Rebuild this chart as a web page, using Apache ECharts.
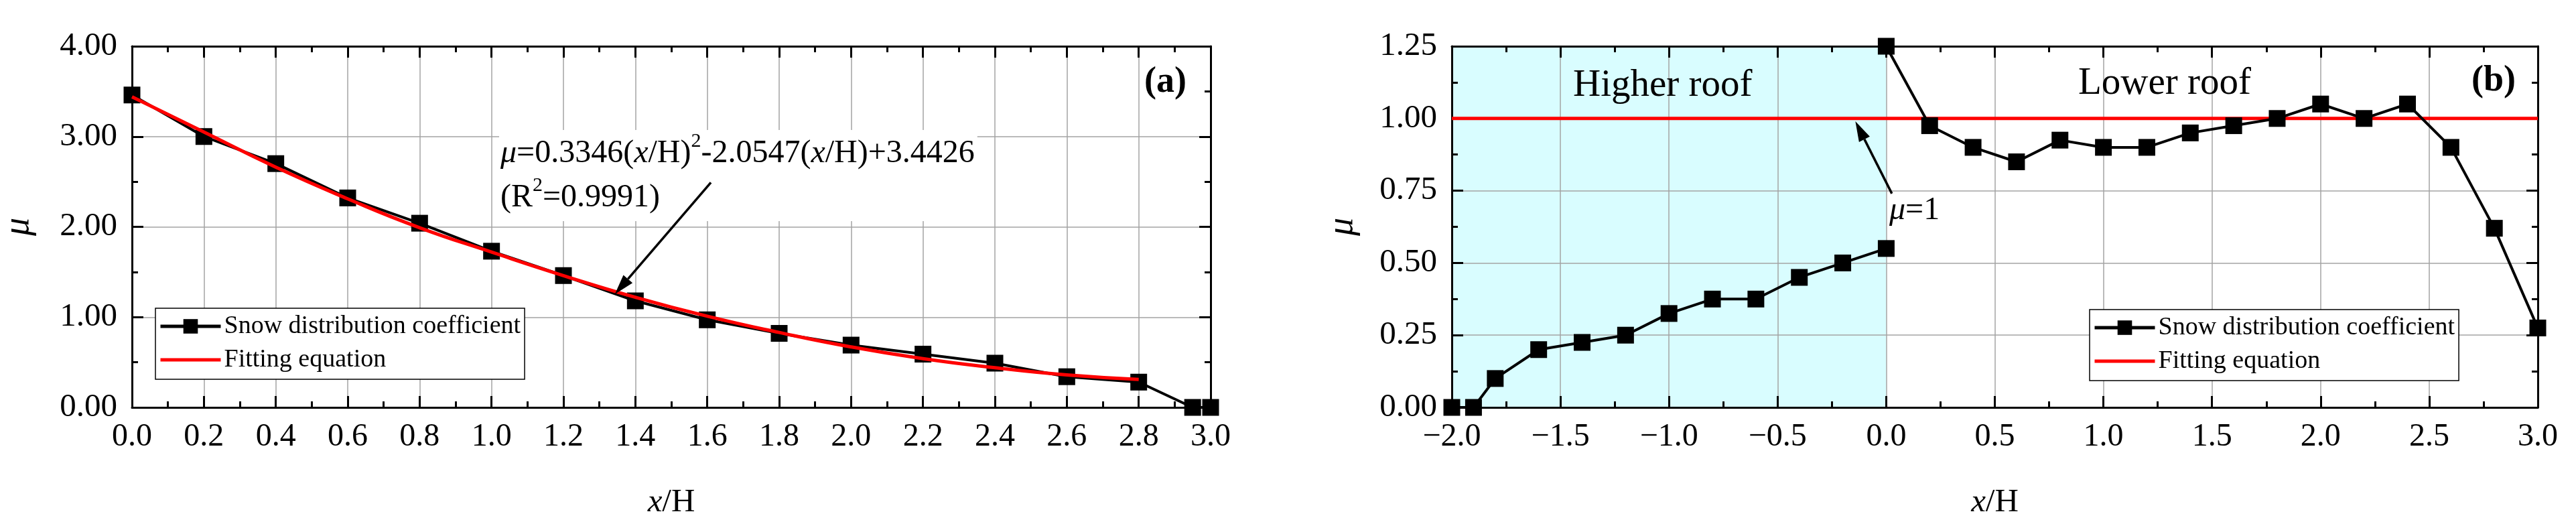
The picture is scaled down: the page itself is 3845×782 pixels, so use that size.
<!DOCTYPE html>
<html>
<head>
<meta charset="utf-8">
<script src="https://cdn.jsdelivr.net/npm/echarts@6/dist/echarts.min.js"></script>
<style>
html,body{margin:0;padding:0;background:#fff;}
#main{width:3845px;height:782px;}
</style>
</head>
<body>
<div id="main"></div>
<script>
// panel (a): snow distribution coefficient along x/H
var xA   = [0, 0.2, 0.4, 0.6, 0.8, 1.0, 1.2, 1.4, 1.6, 1.8, 2.0, 2.2, 2.4, 2.6, 2.8, 2.95, 3.0];
var muA  = [3.46, 3.00, 2.70, 2.32, 2.04, 1.73, 1.46, 1.18, 0.97, 0.82, 0.69, 0.59, 0.49, 0.34, 0.28, 0, 0];
// fitted curve
var fitX = [0, 0.2, 0.4, 0.6, 0.8, 1.0, 1.2, 1.4, 1.6, 1.8, 2.0, 2.2, 2.4, 2.6, 2.8];
var fitA = [3.44, 3.05, 2.66, 2.31, 1.99, 1.72, 1.46, 1.22, 1.01, 0.83, 0.67, 0.54, 0.44, 0.36, 0.31];

// panel (b): higher roof (x<=0) and lower roof (x>=0)
var xHigh  = [-2.0, -1.9, -1.8, -1.6, -1.4, -1.2, -1.0, -0.8, -0.6, -0.4, -0.2, 0];
var muHigh = [0, 0, 0.10, 0.20, 0.225, 0.25, 0.325, 0.375, 0.375, 0.45, 0.50, 0.55];
var xLow   = [0, 0.2, 0.4, 0.6, 0.8, 1.0, 1.2, 1.4, 1.6, 1.8, 2.0, 2.2, 2.4, 2.6, 2.8, 3.0];
var muLow  = [1.25, 0.975, 0.90, 0.85, 0.925, 0.90, 0.90, 0.95, 0.975, 1.00, 1.05, 1.00, 1.05, 0.90, 0.62, 0.275];
var refX = [-2, 3];
var refB = [1, 1];
var higherRoof = [-2, 0];

var FONT = 'Liberation Serif';
var GRID_COLOR = '#a3a3a3';
var SNOW = 'Snow distribution coefficient';
var FIT = 'Fitting equation';

function zip(xs, ys) {
    return xs.map(function (x, i) { return [x, ys[i]]; });
}

function axis(grid, pos, min, max, step, labels, fmt) {
    var isX = (pos === 'bottom' || pos === 'top');
    return {
        type: 'value',
        gridIndex: grid,
        position: pos,
        min: min,
        max: max,
        interval: step,
        z: 0,
        axisLine: { show: true, onZero: false, lineStyle: { color: '#000', width: 3 } },
        axisTick: { show: true, inside: true, length: 17, lineStyle: { color: '#000', width: 3 } },
        minorTick: { show: true, splitNumber: 2, length: 9, lineStyle: { color: '#000', width: 3 } },
        splitLine: { show: labels, lineStyle: { color: GRID_COLOR, width: 1.5 } },
        axisLabel: {
            show: labels,
            margin: isX ? 20 : 22,
            fontFamily: FONT,
            fontSize: isX ? 48 : 49,
            color: '#000',
            formatter: fmt
        }
    };
}

function fmtSigned(v) {
    var s = Math.abs(v).toFixed(1);
    return v < -1e-9 ? '\u2212' + s : s;
}
function fmt2(v) { return v.toFixed(2); }

var xName = {
    name: '{i|x}/H',
    nameLocation: 'middle',
    nameGap: 118,
    nameTextStyle: {
        fontFamily: FONT, fontSize: 49, color: '#000',
        rich: { i: { fontFamily: FONT, fontSize: 49, fontStyle: 'italic', color: '#000' } }
    }
};
var yName = function (gap) {
    return {
        name: '\u03bc', nameLocation: 'middle', nameGap: gap, nameRotate: 90,
        nameTextStyle: { fontFamily: FONT, fontSize: 54, fontStyle: 'italic', color: '#000' }
    };
};

var xAxes = [
    Object.assign(axis(0, 'bottom', 0, 3, 0.2, true, fmtSigned), xName),
    axis(0, 'top', 0, 3, 0.2, false),
    Object.assign(axis(1, 'bottom', -2, 3, 0.5, true, fmtSigned), xName),
    axis(1, 'top', -2, 3, 0.5, false)
];
var yAxes = [
    Object.assign(axis(0, 'left', 0, 4, 1, true, fmt2), yName(142)),
    axis(0, 'right', 0, 4, 1, false),
    Object.assign(axis(1, 'left', 0, 1.25, 0.25, true, fmt2), yName(136)),
    axis(1, 'right', 0, 1.25, 0.25, false)
];

function legend(left, top) {
    return {
        orient: 'vertical',
        left: left,
        top: top,
        data: [
            { name: SNOW, lineStyle: { width: 5 } },
            { name: FIT, icon: 'path://M0,0 L90,0 L90,5 L0,5 Z', itemStyle: { color: '#ff0000' } }
        ],
        itemWidth: 90,
        itemHeight: 27,
        itemGap: 10,
        padding: [7, 6, 9, 5],
        borderColor: '#000',
        borderWidth: 1.5,
        backgroundColor: '#fff',
        selectedMode: false,
        textStyle: { fontFamily: FONT, fontSize: 38, color: '#000', lineHeight: 40 }
    };
}

function snowSeries(xi, yi, data) {
    return {
        name: SNOW, type: 'line', xAxisIndex: xi, yAxisIndex: yi,
        data: data, symbol: 'rect', symbolSize: 25, clip: false,
        itemStyle: { color: '#000' },
        lineStyle: { color: '#000', width: 4 },
        z: 3
    };
}

var option = {
    backgroundColor: '#fff',
    animation: false,
    grid: [
        { left: 187, top: 69, width: 1620, height: 539 },
        { left: 2167, top: 69, width: 1621, height: 539 }
    ],
    xAxis: xAxes,
    yAxis: yAxes,
    legend: [legend(232, 460), legend(3119, 462)],
    series: [
        snowSeries(0, 0, zip(xA, muA)),
        {
            name: FIT, type: 'line', xAxisIndex: 0, yAxisIndex: 0,
            data: zip(fitX, fitA), smooth: true, symbol: 'none',
            itemStyle: { color: '#ff0000' },
            lineStyle: { color: '#ff0000', width: 5 },
            z: 4
        },
        {
            // cyan band for the higher roof, kept under the grid lines
            name: 'band', type: 'line', xAxisIndex: 2, yAxisIndex: 2,
            data: [], silent: true,
            markArea: {
                silent: true,
                z: -1,
                itemStyle: { color: '#d9fdff' },
                data: [[{ xAxis: higherRoof[0] }, { xAxis: higherRoof[1] }]]
            }
        },
        {
            name: FIT, type: 'line', xAxisIndex: 2, yAxisIndex: 2,
            data: zip(refX, refB), symbol: 'none',
            itemStyle: { color: '#ff0000' },
            lineStyle: { color: '#ff0000', width: 5 },
            z: 2
        },
        snowSeries(2, 2, zip(xHigh, muHigh)),
        snowSeries(2, 2, zip(xLow, muLow))
    ]
};

var chart = echarts.init(document.getElementById('main'), null, { renderer: 'canvas' });
chart.setOption(option);

function arrow(finder, from, to) {
    var p0 = chart.convertToPixel(finder, from);
    var p1 = chart.convertToPixel(finder, to);
    var dx = p1[0] - p0[0], dy = p1[1] - p0[1];
    var len = Math.sqrt(dx * dx + dy * dy);
    var ux = dx / len, uy = dy / len;
    var hl = 30, hw = 9;
    var bx = p1[0] - ux * hl, by = p1[1] - uy * hl;
    return [
        { type: 'line', z: 10, shape: { x1: p0[0], y1: p0[1], x2: bx, y2: by }, style: { stroke: '#000', lineWidth: 3.5 } },
        { type: 'polygon', z: 10, shape: { points: [[p1[0], p1[1]], [bx - uy * hw, by + ux * hw], [bx + uy * hw, by - ux * hw]] }, style: { fill: '#000' } }
    ];
}

var textStyle = function (txt, size, weight) {
    return { text: txt, fontFamily: FONT, fontSize: size, fontWeight: weight || 'normal', fill: '#000' };
};

var graphics = [];
graphics = graphics.concat(arrow({ xAxisIndex: 0, yAxisIndex: 0 }, [1.61, 2.49], [1.343, 1.254]));
graphics = graphics.concat(arrow({ xAxisIndex: 2, yAxisIndex: 2 }, [0.026, 0.74], [-0.142, 0.99]));

graphics.push({
    type: 'text', left: 745, top: 194, z: 9,
    style: {
        text: '{i|\u03bc}=0.3346({i|x}/H){s|2}-2.0547({i|x}/H)+3.4426\n(R{s|2}=0.9991)',
        fontFamily: FONT, fontSize: 48, fill: '#000', lineHeight: 66,
        backgroundColor: '#fff', padding: [2, 4, 2, 2],
        rich: {
            i: { fontFamily: FONT, fontSize: 48, fontStyle: 'italic', fill: '#000', lineHeight: 66 },
            s: { fontFamily: FONT, fontSize: 30, fill: '#000', verticalAlign: 'top', lineHeight: 44 }
        }
    }
});
graphics.push({ type: 'text', left: 1708, top: 96, z: 9, style: textStyle('(a)', 54, 'bold') });
graphics.push({ type: 'text', left: 3689, top: 94, z: 9, style: textStyle('(b)', 54, 'bold') });
graphics.push({ type: 'text', left: 2348, top: 100, z: 9, style: textStyle('Higher roof', 57) });
graphics.push({ type: 'text', left: 3102, top: 97, z: 9, style: textStyle('Lower roof', 57) });
graphics.push({
    type: 'text', left: 2820, top: 290, z: 9,
    style: {
        text: '{i|\u03bc}=1', fontFamily: FONT, fontSize: 48, fill: '#000',
        rich: { i: { fontFamily: FONT, fontSize: 48, fontStyle: 'italic', fill: '#000' } }
    }
});

chart.setOption({ graphic: graphics });
</script>
</body>
</html>
